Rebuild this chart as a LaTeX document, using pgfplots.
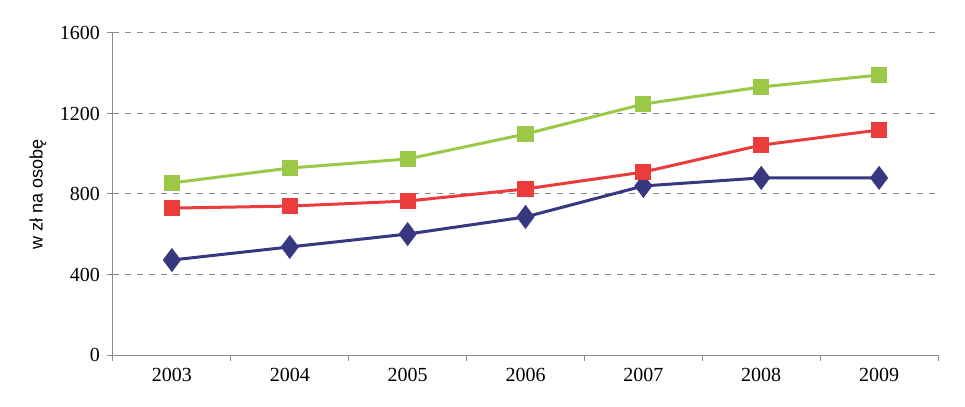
\documentclass[border=0pt]{standalone}
\usepackage{pgfplots}
\pgfplotsset{compat=1.18}
\usetikzlibrary{calc}
\usepackage{fontspec}
\setmainfont{Liberation Serif}
\setsansfont{Liberation Sans}
\definecolor{cgreen}{RGB}{155,200,70}
\definecolor{cred}{RGB}{235,60,60}
\definecolor{cnavy}{RGB}{55,55,130}
\definecolor{cgrid}{RGB}{140,140,140}
\begin{document}
\begin{tikzpicture}
\begin{axis}[
  scale only axis,
  width=412.5pt, height=161pt,
  xmin=2002.5, xmax=2009.5,
  ymin=0, ymax=1600,
  ytick={0,400,800,1200,1600},
  xtick={2002.5,2003.5,...,2009.5},
  xticklabels={},
  extra x ticks={2003,2004,2005,2006,2007,2008,2009},
  extra x tick labels={2003,2004,2005,2006,2007,2008,2009},
  extra x tick style={grid=none, major tick length=0pt},
  x tick label style={yshift=-3pt},
  /pgf/number format/1000 sep={},
  /pgf/number format/assume math mode=true,
  axis x line*=bottom,
  axis y line*=left,
  axis line style={draw=cgrid, line width=0.5pt, -},
  tick align=outside,
  major tick length=3pt,
  tick style={draw=cgrid, line width=0.5pt},
  ymajorgrids,
  major grid style={draw=cgrid, dashed, dash pattern=on 3pt off 3pt, line width=0.5pt},
  tick label style={font=\fontsize{10}{12}\selectfont},
  ylabel={\sffamily\fontsize{9}{11}\selectfont w zł na osobę},
  ylabel style={at={(axis description cs:-0.091,0.5)}, anchor=center},
  every axis plot/.append style={line width=1.5pt},
  clip=false,
]
\addplot[color=cnavy, mark=diamond*, mark size=4.8pt, mark options={solid, fill=cnavy}]
  coordinates {(2003,472) (2004,537) (2005,601) (2006,686) (2007,840) (2008,880) (2009,880)};
\addplot[color=cred, mark=square*, mark size=3.3pt, mark options={solid, fill=cred}]
  coordinates {(2003,730) (2004,740) (2005,765) (2006,825) (2007,909) (2008,1043) (2009,1118)};
\addplot[color=cgreen, mark=square*, mark size=3.3pt, mark options={solid, fill=cgreen}]
  coordinates {(2003,855) (2004,929) (2005,974) (2006,1098) (2007,1247) (2008,1332) (2009,1391)};
\coordinate (sw) at (rel axis cs:0,0);
\coordinate (ne) at (rel axis cs:1,1);
\end{axis}
\pgfresetboundingbox
\useasboundingbox ($(sw)+(-56.5pt,-25.5pt)$) rectangle ($(ne)+(13.5pt,16.5pt)$);
\end{tikzpicture}
\end{document}
